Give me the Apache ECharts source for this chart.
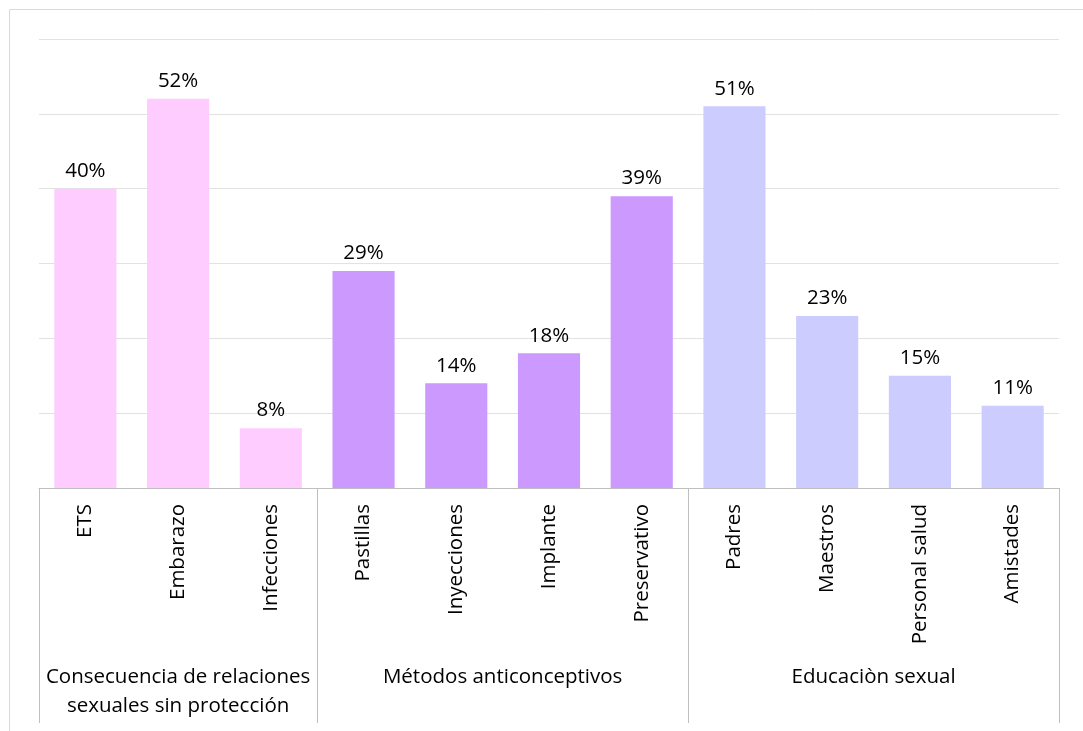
<!DOCTYPE html>
<html>
<head>
<meta charset="utf-8">
<script src="https://cdn.jsdelivr.net/npm/echarts@6/dist/echarts.min.js"></script>
<style>html,body{margin:0;padding:0;background:#fff}#c{width:1083px;height:731px}</style>
</head>
<body>
<div id="c"></div>
<script>
const categories = ['ETS','Embarazo','Infecciones','Pastillas','Inyecciones','Implante','Preservativo','Padres','Maestros','Personal salud','Amistades'];
const values = [40,52,8,29,14,18,39,51,23,15,11];
const groupNames = ['Consecuencia de relaciones\nsexuales sin protección','Métodos anticonceptivos','Educaciòn sexual'];
const groupSizes = [3,4,4];
const groupColors = ['#FFCCFF','#CC99FF','#CCCCFF'];

const FONT = 'Open Sans';
const FS = 20.5;
// derived from group sizes
const boundaries = [0];
groupSizes.forEach(s => boundaries.push(boundaries[boundaries.length-1] + s));
const groupCenters = groupSizes.map((s,i) => boundaries[i] + s/2);
const barColors = [];
groupSizes.forEach((s,i) => { for (let k=0;k<s;k++) barColors.push(groupColors[i]); });

const chart = echarts.init(document.getElementById('c'), null, {renderer:'canvas'});
chart.setOption({
  animation:false,
  backgroundColor:'#fff',
  textStyle:{fontFamily:FONT},
  graphic:[{type:'rect',shape:{x:9.5,y:9.5,width:1200,height:900},style:{fill:'none',stroke:'#d9d9d9',lineWidth:1},silent:true}],
  grid:{left:39,right:24,top:39,bottom:243,containLabel:false},
  xAxis:[{
    type:'category',
    data:categories,
    axisLine:{show:true,lineStyle:{color:'#bfbfbf',width:1}},
    axisTick:{show:false},
    axisLabel:{rotate:90,margin:16,color:'#000',fontSize:FS,fontFamily:FONT,interval:0}
  },{
    type:'value',
    position:'bottom',
    min:0,max:categories.length,
    axisLine:{show:false},
    splitLine:{show:false},
    axisTick:{show:true,customValues:boundaries,length:235,lineStyle:{color:'#bfbfbf',width:1}},
    axisLabel:{show:true,customValues:groupCenters,margin:175,color:'#000',fontSize:FS,lineHeight:29,fontFamily:FONT,
      formatter:function(v){const i=groupCenters.indexOf(v);return i>=0?groupNames[i]:'';}}
  }],
  yAxis:{
    type:'value',min:0,max:60,interval:10,
    axisLine:{show:false},axisTick:{show:false},axisLabel:{show:false},
    splitLine:{lineStyle:{color:'#e2e2e2',width:1}}
  },
  series:[{
    type:'bar',
    xAxisIndex:0,
    data:values.map((v,i)=>({value:v,itemStyle:{color:barColors[i]}})),
    barWidth:'67%',
    label:{show:true,position:'top',distance:7,color:'#000',fontSize:FS,fontFamily:FONT,formatter:'{c}%'}
  }]
});
</script>
</body>
</html>
